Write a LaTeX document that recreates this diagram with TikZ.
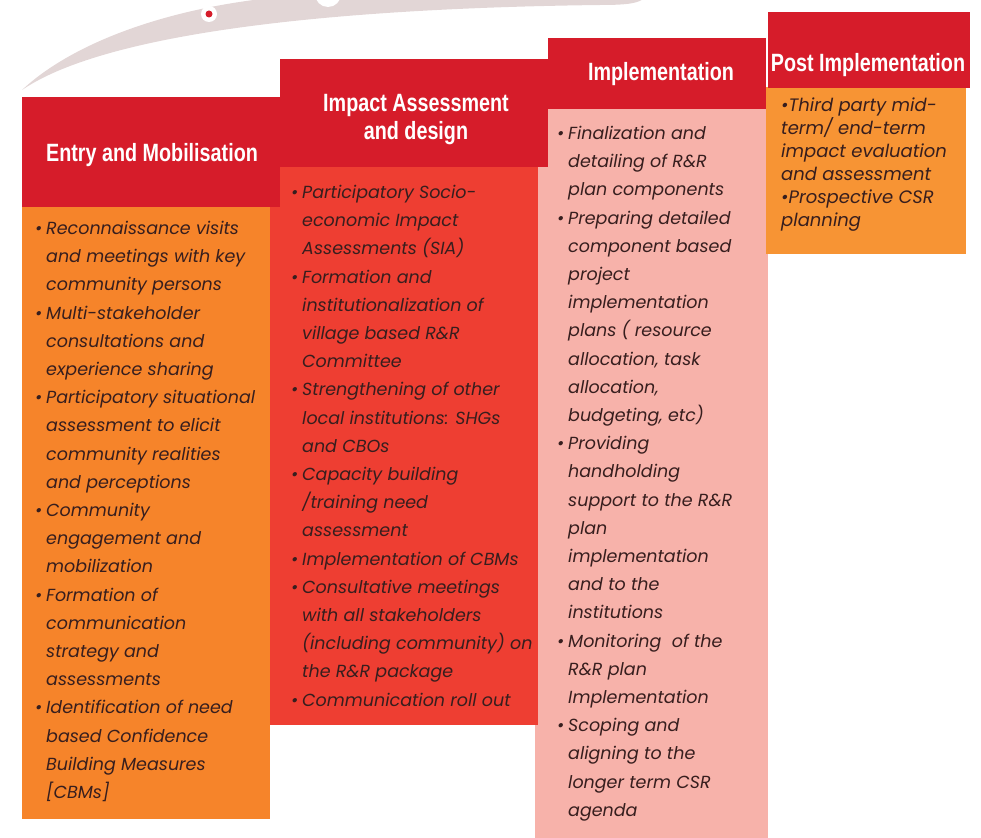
\documentclass[tikz,border=0pt]{standalone}
\usepackage{fontspec}
\setmainfont{Poppins}
\newfontfamily\headfont[FakeStretch=0.79]{Liberation Sans}
\usepackage{tikz}
\usetikzlibrary{positioning}

\definecolor{headred}{RGB}{214,28,42}
\definecolor{entryorange}{RGB}{246,132,42}
\definecolor{impactred}{RGB}{238,62,50}
\definecolor{implpink}{RGB}{247,178,170}
\definecolor{postorange}{RGB}{247,148,52}
\definecolor{swooshgray}{RGB}{226,214,214}
\definecolor{bodytext}{RGB}{55,30,30}

\newcommand{\dotb}{\raisebox{0.5ex}{\scalebox{0.8}{\textbullet}}}
\newcommand{\bl}{\makebox[11pt][l]{\textbullet}}
\newcommand{\ho}{\hspace*{11pt}}

\begin{document}
\begin{tikzpicture}[x=1pt,y=-1pt,
		head node/.style={rectangle,fill=headred,inner sep=0pt,anchor=north west},
		body node/.style={rectangle,inner sep=0pt,anchor=north west},
		head text/.style={text=white,font=\headfont\bfseries\fontsize{25}{28}\selectfont,align=center},
		body text/.style={text=bodytext,font=\fontsize{17.5}{28.2}\selectfont\itshape,align=left,inner sep=0pt,anchor=north west}]
		
		\useasboundingbox (0,0) rectangle (981,837);
		
		% swoosh at the top
		\fill[swooshgray] (22,90) .. controls (70,45) and (160,10) .. (270,-2) -- (645,-2)
			.. controls (638,3) and (630,5) .. (600,5) .. controls (350,8) and (110,30) .. (22,90);
		\node[circle,fill=white,minimum size=16pt,inner sep=0pt] (ring) at (209,14) {};
		\node[circle,fill=headred,minimum size=7pt,inner sep=0pt] (dot) at (ring.center) {};
		\node[circle,fill=white,minimum size=26pt,inner sep=0pt] (blob) at (328,-6) {};
		
		% bodies
		\node[body node,fill=implpink,minimum width=233pt,minimum height=730pt] (b3) at (535,108) {};
		\node[body node,fill=postorange,minimum width=200pt,minimum height=167pt] (b4) at (766,87) {};
		\node[body node,fill=entryorange,minimum width=248pt,minimum height=614pt] (b1) at (22,205) {};
		\node[body node,fill=impactred,minimum width=268pt,minimum height=559pt] (b2) at (270,166) {};
		
		% headers
		\node[head node,minimum width=258pt,minimum height=110pt] (h1) at (22,97) {};
		\node[head node,minimum width=268pt,minimum height=108pt] (h2) at (280,59) {};
		\node[head node,minimum width=218pt,minimum height=71pt] (h3) at (548,38) {};
		\node[head node,minimum width=202pt,minimum height=76pt] (h4) at (768,12) {};
		
		\node[head text] (t1) at (152,155) {Entry and Mobilisation};
		\node[head text] (t2) at (416,120) {Impact Assessment\\and design};
		\node[head text] (t3) at (661,74) {Implementation};
		\node[head text] (t4) at (868,65) {Post Implementation};
		
		% column texts
		\node[body text] (c1) at (35,221) {%
			\bl Reconnaissance visits\\ \ho and meetings with key\\ \ho community persons\\
			\bl Multi-stakeholder\\ \ho consultations and\\ \ho experience sharing\\
			\bl Participatory situational\\ \ho assessment to elicit\\ \ho community realities\\ \ho and perceptions\\
			\bl Community\\ \ho engagement and\\ \ho mobilization\\
			\bl Formation of\\ \ho communication\\ \ho strategy and\\ \ho assessments\\
			\bl Identification of need\\ \ho based Confidence\\ \ho Building Measures\\ \ho [CBMs]};
		
		\node[body text] (c2) at (291,185) {%
			\bl Participatory Socio-\\ \ho economic Impact\\ \ho Assessments (SIA)\\
			\bl Formation and\\ \ho institutionalization of\\ \ho village based R\&R\\ \ho Committee\\
			\bl Strengthening of other\\ \ho local institutions: SHGs\\ \ho and CBOs\\
			\bl Capacity building\\ \ho /training need\\ \ho assessment\\
			\bl Implementation of CBMs\\
			\bl Consultative meetings\\ \ho with all stakeholders\\ \ho (including community) on\\ \ho the R\&R package\\
			\bl Communication roll out};
		
		\node[body text] (c3) at (557,126) {%
			\bl Finalization and\\ \ho detailing of R\&R\\ \ho plan components\\
			\bl Preparing detailed\\ \ho component based\\ \ho project\\ \ho implementation\\ \ho plans ( resource\\ \ho allocation, task\\ \ho allocation,\\ \ho budgeting, etc)\\
			\bl Providing\\ \ho handholding\\ \ho support to the R\&R\\ \ho plan\\ \ho implementation\\ \ho and to the\\ \ho institutions\\
			\bl Monitoring\ \ of the\\ \ho R\&R plan\\ \ho Implementation\\
			\bl Scoping and\\ \ho aligning to the\\ \ho longer term CSR\\ \ho agenda};
		
		\node[body text,font=\fontsize{18}{23}\selectfont\itshape] (c4) at (781,98) {%
			\textbullet Third party mid-\\term/ end-term\\impact evaluation\\and assessment\\
			\textbullet Prospective CSR\\planning};
		
		\end{tikzpicture}
\end{document}
